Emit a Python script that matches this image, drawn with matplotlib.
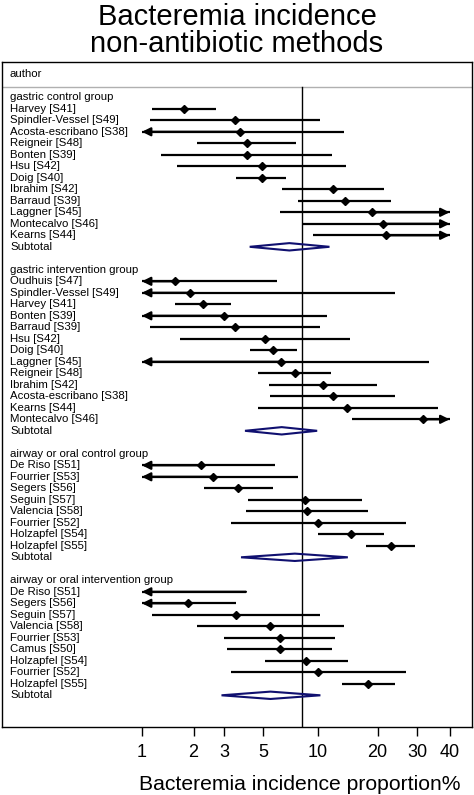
import numpy as np
import matplotlib
matplotlib.use('Agg')
import matplotlib.pyplot as plt
from matplotlib.patches import Polygon
from matplotlib.transforms import blended_transform_factory
from matplotlib.ticker import NullLocator, FixedLocator, FixedFormatter

plt.rcParams['font.family'] = ['Liberation Sans', 'DejaVu Sans']

# ---------------- data (percent) ----------------
group_names = ["gastric control group", "gastric intervention group",
               "airway or oral control group", "airway or oral intervention group"]

gc_studies = ["Harvey [S41]", "Spindler-Vessel [S49]", "Acosta-escribano [S38]", "Reigneir [S48]",
              "Bonten [S39]", "Hsu [S42]", "Doig [S40]", "Ibrahim [S42]", "Barraud [S39]",
              "Laggner [S45]", "Montecalvo [S46]", "Kearns [S44]"]
gc_est = [1.75, 3.45, 3.7, 4.05, 4.05, 4.9, 4.9, 12.0, 13.8, 18.9, 21.2, 21.9]
gc_low = [1.15, 1.12, 0.6, 2.1, 1.3, 1.6, 3.5, 6.4, 7.8, 6.2, 8.2, 9.4]
gc_high = [2.7, 10.2, 13.7, 7.6, 11.9, 14.0, 6.7, 21.5, 23.0, 55.0, 50.0, 45.0]
gc_sub = [7.0, 4.2, 11.5]

gi_studies = ["Oudhuis [S47]", "Spindler-Vessel [S49]", "Harvey [S41]", "Bonten [S39]",
              "Barraud [S39]", "Hsu [S42]", "Doig [S40]", "Laggner [S45]", "Reigneir [S48]",
              "Ibrahim [S42]", "Acosta-escribano [S38]", "Kearns [S44]", "Montecalvo [S46]"]
gi_est = [1.55, 1.9, 2.27, 3.0, 3.46, 5.1, 5.7, 6.3, 7.5, 10.6, 12.0, 14.2, 31.6]
gi_low = [0.3, 0.3, 1.57, 0.5, 1.12, 1.66, 4.2, 0.8, 4.7, 5.4, 5.5, 4.7, 15.0]
gi_high = [6.0, 24.0, 3.3, 11.2, 10.2, 14.7, 7.7, 33.6, 11.7, 19.8, 24.2, 36.2, 48.0]
gi_sub = [6.35, 3.95, 9.9]

ac_studies = ["De Riso [S51]", "Fourrier [S53]", "Segers [S56]", "Seguin [S57]",
              "Valencia [S58]", "Fourrier [S52]", "Holzapfel [S54]", "Holzapfel [S55]"]
ac_est = [2.2, 2.6, 3.6, 8.5, 8.7, 10.0, 14.8, 23.0]
ac_low = [0.6, 0.5, 2.3, 4.1, 4.0, 3.3, 10.0, 17.7]
ac_high = [5.8, 7.8, 5.7, 16.8, 18.0, 26.8, 21.5, 29.3]
ac_sub = [7.5, 3.75, 14.3]

ai_studies = ["De Riso [S51]", "Segers [S56]", "Seguin [S57]", "Valencia [S58]",
              "Fourrier [S53]", "Camus [S50]", "Holzapfel [S54]", "Fourrier [S52]", "Holzapfel [S55]"]
ai_est = [0.6, 1.86, 3.5, 5.5, 6.2, 6.2, 8.6, 10.0, 18.0]
ai_low = [0.1, 0.4, 1.15, 2.1, 3.0, 3.1, 5.1, 3.3, 13.4]
ai_high = [4.0, 3.5, 10.3, 13.7, 12.3, 11.9, 14.3, 26.8, 24.2]
ai_sub = [5.5, 2.9, 10.3]

ref_value = 8.2
tick_values = [1, 2, 3, 5, 10, 20, 30, 40]
tick_labels = ["1", "2", "3", "5", "10", "20", "30", "40"]
clip_lo, clip_hi = 1.0, 40.0

groups = [
    (group_names[0], gc_studies, gc_est, gc_low, gc_high, gc_sub),
    (group_names[1], gi_studies, gi_est, gi_low, gi_high, gi_sub),
    (group_names[2], ac_studies, ac_est, ac_low, ac_high, ac_sub),
    (group_names[3], ai_studies, ai_est, ai_low, ai_high, ai_sub),
]

# ---------------- figure ----------------
W, H = 474, 795
fig = plt.figure(figsize=(W / 100, H / 100), dpi=100)
ax = fig.add_axes([2 / W, (H - 727) / H, 470 / W, (727 - 62) / H])


def fwd(x):
    x = np.asarray(x, dtype=float)
    with np.errstate(all='ignore'):
        return np.log(x / (100.0 - x))


def inv(y):
    y = np.asarray(y, dtype=float)
    return 100.0 / (1.0 + np.exp(-y))


ax.set_xscale('function', functions=(fwd, inv))
ax.set_xlim(0.150, 47.52)

row_px = 11.5
y_top = (62 - 97.3) / row_px
y_bot = (727 - 97.3) / row_px
ax.set_ylim(y_bot, y_top)

trans = blended_transform_factory(ax.transAxes, ax.transData)
label_x = 8 / 470
fs_lab = 8.2

ax.text(label_x, (74 - 97.3) / row_px, "author", transform=trans, fontsize=fs_lab,
        va='center', ha='left')
sep_y = (87 - 97.3) / row_px
ax.axhline(sep_y, color='#b0b0b0', lw=1.0)
ax.plot([ref_value, ref_value], [sep_y, y_bot], color='black', lw=1.0)

navy = '#101070'
row = 0
for gname, studies, est, low, high, sub in groups:
    ax.text(label_x, row, gname, transform=trans, fontsize=fs_lab, va='center', ha='left')
    row += 1
    for s, e, lo, hi in zip(studies, est, low, high):
        ax.text(label_x, row, s, transform=trans, fontsize=fs_lab, va='center', ha='left')
        lo_c = max(lo, clip_lo)
        hi_c = min(hi, clip_hi)
        ax.plot([lo_c, hi_c], [row, row], color='black', lw=1.6, solid_capstyle='butt')
        if lo < clip_lo:
            ax.annotate('', xy=(clip_lo, row), xytext=(min(hi_c, e if e > clip_lo else hi_c), row),
                        arrowprops=dict(arrowstyle='-|>,head_length=0.5,head_width=0.25',
                                        color='black', lw=1.6, shrinkA=0, shrinkB=0,
                                        mutation_scale=10))
        if hi > clip_hi:
            ax.annotate('', xy=(clip_hi, row), xytext=(e, row),
                        arrowprops=dict(arrowstyle='-|>,head_length=0.5,head_width=0.25',
                                        color='black', lw=1.6, shrinkA=0, shrinkB=0,
                                        mutation_scale=10))
        if clip_lo <= e <= clip_hi:
            ax.plot([e], [row], marker='D', color='black', markersize=3.6, zorder=5)
        row += 1
    ax.text(label_x, row, "Subtotal", transform=trans, fontsize=fs_lab, va='center', ha='left')
    se, slo, shi = sub
    h = 0.32
    poly = Polygon([(slo, row), (se, row - h), (shi, row), (se, row + h)], closed=True,
                   facecolor='none', edgecolor=navy, lw=1.5, zorder=4)
    ax.add_patch(poly)
    row += 2

ax.set_yticks([])
ax.xaxis.set_major_locator(FixedLocator(tick_values))
ax.xaxis.set_major_formatter(FixedFormatter(tick_labels))
ax.xaxis.set_minor_locator(NullLocator())
ax.tick_params(axis='x', length=6.5, width=1, labelsize=13, pad=6, direction='out')
for sp in ax.spines.values():
    sp.set_color('black')
    sp.set_linewidth(1.0)

fig.text(300 / W, 1 - 790 / H, "Bacteremia incidence proportion%", fontsize=15.2,
         ha='center', va='baseline')
fig.text(0.5, 1 - 25 / H, "Bacteremia incidence", fontsize=21, ha='center', va='baseline')
fig.text(0.5, 1 - 52 / H, "non-antibiotic methods", fontsize=21, ha='center', va='baseline')

fig.savefig('out.png', dpi=100)
